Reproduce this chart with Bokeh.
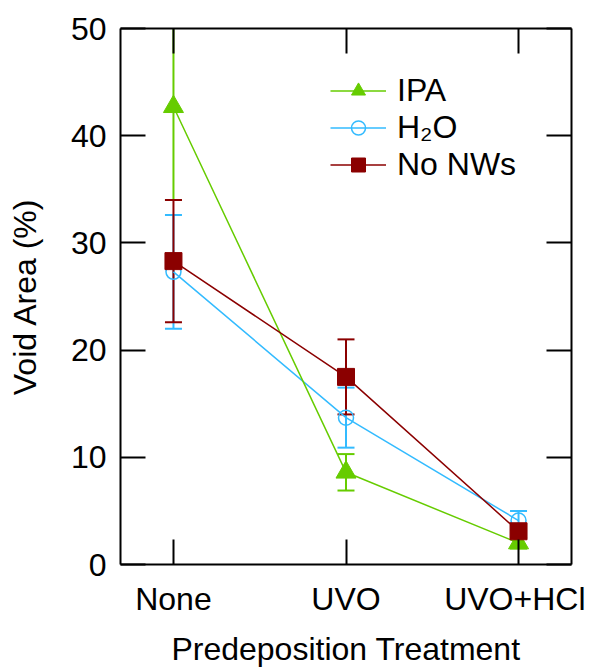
from bokeh.plotting import figure
from bokeh.models import (ColumnDataSource, Whisker, Legend, LegendItem, LinearAxis,
                          FixedTicker, Range1d)
from bokeh.embed import file_html
from bokeh.resources import INLINE

categories = ["None", "UVO", "UVO+HCl"]
ipa = [42.7, 8.6, 2.0]
ipa_err = [8.7, 1.7, 0.5]
h2o = [27.3, 13.7, 4.1]
h2o_err = [5.3, 2.8, 0.9]
nonws = [28.3, 17.5, 3.1]
nonws_err = [5.7, 3.5, 0.6]
y_ticks = [0, 10, 20, 30, 40, 50]

x = list(range(1, len(categories) + 1))

FONT = "Liberation Sans"
FS = "32px"

p = figure(width=585, height=669, output_backend="svg", toolbar_location=None,
           x_range=Range1d(0.693, 3.307), y_range=Range1d(0, 50),
           min_border_left=120, min_border_right=14, min_border_top=28,
           min_border_bottom=102, x_axis_label="Predeposition Treatment",
           y_axis_label="Void Area (%)")
p.grid.visible = False
p.outline_line_color = None
p.background_fill_color = "white"
p.border_fill_color = "white"

p.add_layout(LinearAxis(), "right")
p.add_layout(LinearAxis(), "above")

for ax in p.axis:
    ax.axis_line_color = "black"
    ax.axis_line_width = 2
    ax.major_tick_line_color = "black"
    ax.major_tick_line_width = 2
    ax.major_tick_in = 25
    ax.major_tick_out = 0
    ax.minor_tick_line_color = None
    ax.major_label_text_font = FONT
    ax.major_label_text_font_size = FS
    ax.major_label_text_color = "black"
    ax.axis_label_text_font = FONT
    ax.axis_label_text_font_size = FS
    ax.axis_label_text_font_style = "normal"
    ax.axis_label_text_color = "black"

for ax in p.xaxis:
    ax.ticker = FixedTicker(ticks=x)
    ax.major_label_overrides = {xi: c for xi, c in zip(x, categories)}
for ax in p.yaxis:
    ax.ticker = FixedTicker(ticks=y_ticks)

p.below[0].major_label_standoff = 16
p.below[0].axis_label_standoff = 11
p.left[0].major_label_standoff = 14
p.left[0].axis_label_standoff = 25
for ax in (p.right[0], p.above[0]):
    ax.major_label_text_font_size = "1px"
    ax.major_label_text_color = None
    ax.major_label_standoff = 0

series = [
    ("H\u2082O", h2o, h2o_err, "#33BBFF", "circle"),
    ("IPA", ipa, ipa_err, "#66CC00", "triangle"),
    ("No NWs", nonws, nonws_err, "#8B0000", "square"),
]

items = {}
for name, vals, errs, color, marker in series:
    src = ColumnDataSource(dict(
        x=x, y=vals,
        lo=[v - e for v, e in zip(vals, errs)],
        hi=[v + e for v, e in zip(vals, errs)],
    ))
    w = Whisker(source=src, base="x", lower="lo", upper="hi",
                line_color=color, line_width=2)
    w.upper_head.line_color = color
    w.lower_head.line_color = color
    w.upper_head.line_width = 2
    w.lower_head.line_width = 2
    w.upper_head.size = 17
    w.lower_head.size = 17
    p.add_layout(w)
    ln = p.line("x", "y", source=src, line_color=color, line_width=1.5)
    if marker == "circle":
        sc = p.scatter("x", "y", source=src, marker="circle", size=15,
                       line_color=color, line_width=1.5, fill_alpha=0)
    elif marker == "triangle":
        sc = p.scatter("x", "y", source=src, marker="triangle", size=20,
                       line_color=color, fill_color=color)
    else:
        sc = p.scatter("x", "y", source=src, marker="square", size=17,
                       line_color=color, fill_color=color)
    items[name] = LegendItem(label=name, renderers=[ln, sc])

legend = Legend(items=[items["IPA"], items["H\u2082O"], items["No NWs"]],
                location=(210, 381), margin=0, padding=0, spacing=0,
                glyph_width=56, glyph_height=35, label_height=35,
                label_standoff=11, label_text_font=FONT,
                label_text_font_size=FS, label_text_color="black",
                border_line_color=None, background_fill_alpha=0)
p.add_layout(legend, "center")

open("out.html", "w").write(file_html(p, INLINE))
